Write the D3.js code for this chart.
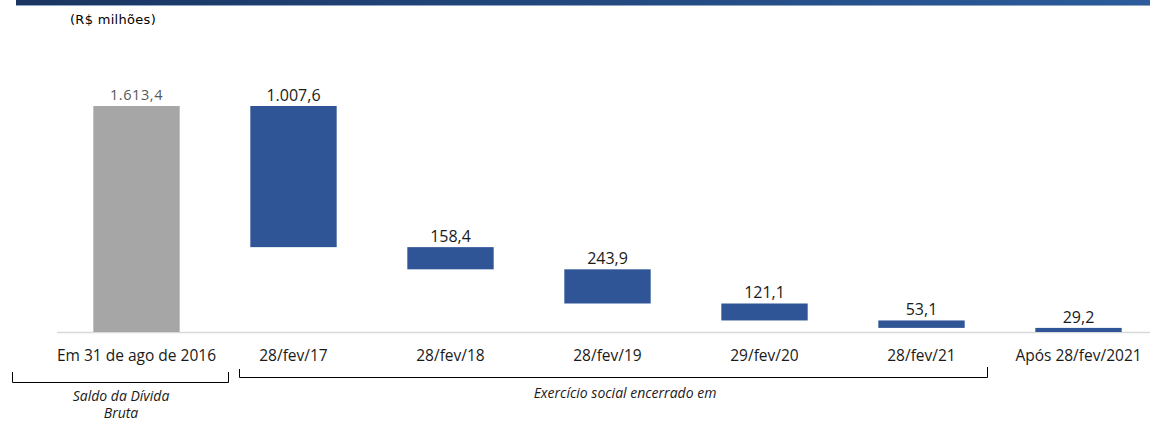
<!DOCTYPE html>
<html>
<head>
<meta charset="utf-8">
<script src="https://cdn.jsdelivr.net/npm/d3@7/dist/d3.min.js"></script>
<style>
  body { margin: 0; background: #ffffff; }
  svg { display: block; }
</style>
</head>
<body>
<div id="chart"></div>
<script>
// waterfall data (R$ milhões)
var categories = ["Em 31 de ago de 2016", "28/fev/17", "28/fev/18", "28/fev/19", "29/fev/20", "28/fev/21", "Após 28/fev/2021"];
var values = [1613.4, 1007.6, 158.4, 243.9, 121.1, 53.1, 29.2];
var valueLabels = ["1.613,4", "1.007,6", "158,4", "243,9", "121,1", "53,1", "29,2"];
var bracketLabels = ["Saldo da Dívida", "Bruta", "Exercício social encerrado em"];

var width = 1150, height = 423;
var baseY = 332;

var svg = d3.select("#chart").append("svg")
  .attr("width", width)
  .attr("height", height);

// top banner
var grad = svg.append("defs").append("linearGradient")
  .attr("id", "banner").attr("x1", "0%").attr("x2", "100%");
grad.append("stop").attr("offset", "0%").attr("stop-color", "#1a3560");
grad.append("stop").attr("offset", "100%").attr("stop-color", "#2c5c9c");
svg.append("rect").attr("x", 16).attr("y", 0).attr("width", width - 16).attr("height", 5).attr("fill", "url(#banner)");
svg.append("rect").attr("x", 16).attr("y", 5).attr("width", width - 16).attr("height", 1).attr("fill", "#8fa6c6");

svg.append("text")
  .attr("x", 70).attr("y", 24)
  .style("font-family", "'DejaVu Sans', sans-serif")
  .style("font-size", "13px")
  .style("letter-spacing", "0.3px")
  .style("fill", "#000")
  .text("(R$ milhões)");

var x = d3.scaleBand()
  .domain(categories)
  .range([58, 1157])
  .paddingInner(0.45)
  .paddingOuter(0.225);

var y = d3.scaleLinear()
  .domain([0, 1613.4])
  .range([baseY, 106]);

// build waterfall steps: first bar is total, the rest go down from it
var bars = [];
var running = values[0];
values.forEach(function (v, i) {
  if (i === 0) {
    bars.push({ cat: categories[i], top: v, bottom: 0, label: valueLabels[i], total: true });
  } else {
    bars.push({ cat: categories[i], top: running, bottom: running - v, label: valueLabels[i], total: false });
    running = running - v;
  }
});
bars[bars.length - 1].bottom = 0;

// baseline
svg.append("line")
  .attr("x1", 57).attr("x2", width)
  .attr("y1", baseY + 0.5).attr("y2", baseY + 0.5)
  .attr("stroke", "#d9d9d9").attr("stroke-width", 1.5);

svg.selectAll("rect.bar")
  .data(bars)
  .enter().append("rect")
  .attr("class", "bar")
  .attr("x", function (d) { return x(d.cat); })
  .attr("width", x.bandwidth())
  .attr("y", function (d) { return y(d.top); })
  .attr("height", function (d) { return Math.max(1, y(d.bottom) - y(d.top)); })
  .attr("fill", function (d) { return d.total ? "#a6a6a6" : "#2f5597"; });

svg.selectAll("text.val")
  .data(bars)
  .enter().append("text")
  .attr("class", "val")
  .attr("x", function (d) { return x(d.cat) + x.bandwidth() / 2; })
  .attr("y", function (d) { return y(d.top) - (d.total ? 6 : 5); })
  .attr("text-anchor", "middle")
  .style("font-family", "'Open Sans', sans-serif")
  .style("font-size", function (d) { return d.total ? "14.5px" : "16px"; })
  .style("letter-spacing", function (d) { return d.total ? "0.6px" : "0px"; })
  .style("fill", function (d) { return d.total ? "#595959" : "#1a1a1a"; })
  .text(function (d) { return d.label; });

// category labels
svg.selectAll("text.cat")
  .data(categories)
  .enter().append("text")
  .attr("class", "cat")
  .attr("x", function (d) { return x(d) + x.bandwidth() / 2; })
  .attr("y", 361)
  .attr("text-anchor", "middle")
  .style("font-family", "'Open Sans', sans-serif")
  .style("font-size", "15.5px")
  .style("fill", "#1a1a1a")
  .text(function (d) { return d; });

// brackets
var line = d3.line();
svg.append("path")
  .attr("d", line([[12.5, 372], [12.5, 382.5], [228.5, 382.5], [228.5, 372]]))
  .attr("fill", "none").attr("stroke", "#000").attr("stroke-width", 1);
svg.append("path")
  .attr("d", line([[239.5, 369], [239.5, 377.5], [987.5, 377.5], [987.5, 367]]))
  .attr("fill", "none").attr("stroke", "#000").attr("stroke-width", 1);

var italic = function (sel) {
  return sel.attr("text-anchor", "middle")
    .style("font-family", "'Open Sans', sans-serif")
    .style("font-size", "14px")
    .style("font-style", "italic")
    .style("fill", "#1a1a1a");
};
svg.append("text").attr("x", 121).attr("y", 401).call(italic).text(bracketLabels[0]);
svg.append("text").attr("x", 121).attr("y", 418).call(italic).text(bracketLabels[1]);
svg.append("text").attr("x", 625).attr("y", 398).call(italic).text(bracketLabels[2]);
</script>
</body>
</html>
